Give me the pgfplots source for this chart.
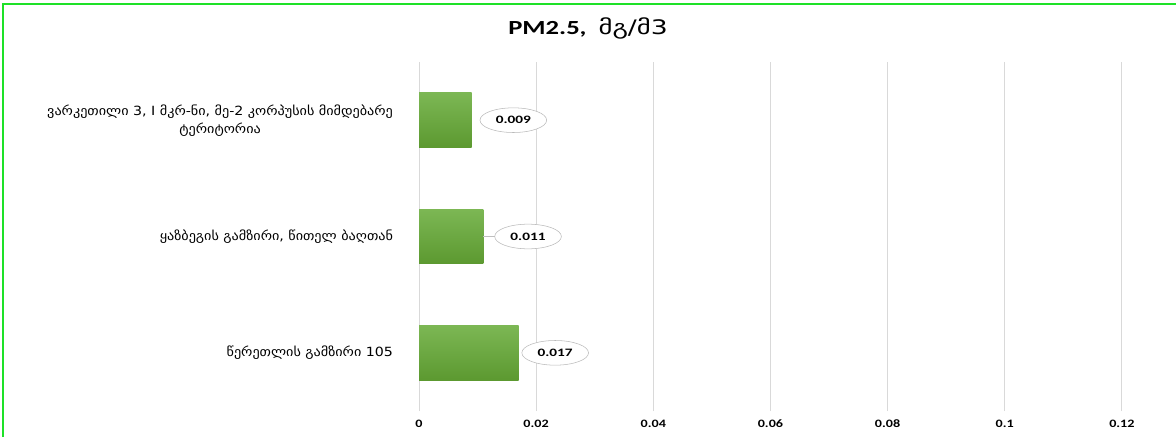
\documentclass[border=0pt]{standalone}
\usepackage{fontspec}
\setmainfont{Carlito}
\newfontfamily\geo[FakeStretch=1.12]{DejaVu Sans}
\newfontfamily\geot[FakeStretch=1.33]{DejaVu Sans}
\newfontfamily\ttl[FakeStretch=1.33]{Carlito}
\newfontfamily\lbl[FakeStretch=1.35]{Carlito}
\newfontfamily\tck[FakeStretch=1.25]{Carlito}
\usepackage{pgfplots}
\pgfplotsset{compat=1.18}
\usetikzlibrary{shapes.geometric}
\definecolor{frameg}{RGB}{30,225,40}
\definecolor{gridc}{RGB}{217,217,217}
\definecolor{bartop}{RGB}{124,183,84}
\definecolor{barbot}{RGB}{92,153,48}
\pgfplotsset{
  lab/.style={every node near coord/.append style={anchor=west, xshift=#1, ellipse, draw=gray!55, fill=white,
    minimum width=50pt, minimum height=18.5pt, inner sep=0pt, font=\lbl\fontsize{8.5}{10}\selectfont\bfseries, text=black}},
  gb/.style={xbar, bar width=41pt, bar shift=0pt, draw=none, top color=bartop, bottom color=barbot,
    point meta=explicit symbolic, nodes near coords}
}
\begin{document}
\begin{tikzpicture}
\path[use as bounding box] (0pt,0pt) rectangle (882pt,327.75pt);
\draw[frameg,line width=1.5pt] (1.9pt,0pt) -- (1.9pt,324.4pt) -- (882pt,324.4pt);
\node[font=\fontsize{15}{17}\selectfont] at (441pt,306.75pt) {\ttl\bfseries PM2.5,\ \ {\geot\mdseries მგ/მ3}};
\begin{axis}[
  at={(314.25pt,19.5pt)}, anchor=south west,
  scale only axis, width=555.75pt, height=261.75pt,
  xmin=0, xmax=0.1265,
  ymin=-0.5, ymax=2.5,
  axis line style={draw=none},
  xtick={0,0.02,0.04,0.06,0.08,0.1,0.12},
  xticklabels={0,0.02,0.04,0.06,0.08,0.1,0.12},
  scaled x ticks=false,
  typeset ticklabels with strut,
  ytick={0,1,2},
  yticklabels={{წერეთლის გამზირი 105},{ყაზბეგის გამზირი, წითელ ბაღთან},{ვარკეთილი 3, I მკრ-ნი, მე-2 კორპუსის მიმდებარე\\ტერიტორია}},
  major tick length=0pt,
  xmajorgrids, grid style={gridc, line width=0.75pt},
  xticklabel style={font=\tck\fontsize{8.5}{10}\selectfont\bfseries, yshift=-2pt},
  yticklabel style={font=\geo\fontsize{9.5}{13.5}\selectfont, align=center, xshift=-16pt},
  clip=false,
]
\addplot[gb, lab=2.25pt] coordinates {(0.017,0) [0.017]};
\addplot[gb, lab=8.25pt] coordinates {(0.011,1) [0.011]};
\addplot[gb, lab=6pt] coordinates {(0.009,2) [0.009]};
\draw[gray!50, line width=0.6pt] (axis cs:0.011,1) -- ++(8.5pt,0pt);
\end{axis}
\end{tikzpicture}
\end{document}
